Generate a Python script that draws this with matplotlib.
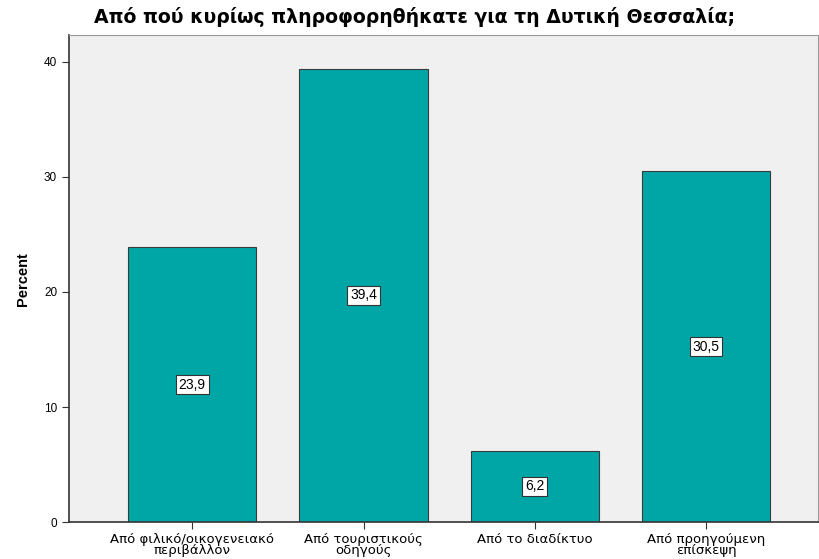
import matplotlib
matplotlib.use('Agg')
import matplotlib.pyplot as plt

plt.rcParams['font.family'] = ['Liberation Sans', 'DejaVu Sans']

title = 'Από πού κυρίως πληροφορηθήκατε για τη Δυτική Θεσσαλία;'
categories = ['Από φιλικό/οικογενειακό\nπεριβάλλον', 'Από τουριστικούς\nοδηγούς',
              'Από το διαδίκτυο', 'Από προηγούμενη\nεπίσκεψη']
percent = [23.9, 39.4, 6.2, 30.5]
labels = ['23,9', '39,4', '6,2', '30,5']

fig = plt.figure(figsize=(8.2, 5.59), dpi=100)
ax = fig.add_axes([0.084, 0.066, 0.913, 0.871])
ax.set_facecolor('#F0F0F0')

x = range(len(categories))
ax.bar(x, percent, width=0.75, color='#00A6A6', edgecolor='#3a3a3a', linewidth=0.8, zorder=2)

for xi, v, lab in zip(x, percent, labels):
    ax.text(xi, v / 2, lab, ha='center', va='center', fontsize=10, zorder=3,
            bbox=dict(boxstyle='square,pad=0.2', fc='white', ec='#333333', lw=0.8))

ax.set_xlim(-0.72, 3.65)
ax.set_ylim(0, 42.3)
ax.set_yticks([0, 10, 20, 30, 40])
ax.set_xticks(list(x))
ax.set_xticklabels(categories, fontsize=9.5, linespacing=0.8, family='DejaVu Sans')
ax.tick_params(axis='y', labelsize=8.5, length=5, color='#333333')
ax.tick_params(axis='x', length=5, color='#333333', pad=3)
ax.set_ylabel('Percent', fontsize=10.5, fontweight='bold', labelpad=10)

for side in ['left', 'bottom']:
    ax.spines[side].set_color('#333333')
    ax.spines[side].set_linewidth(1.2)
for side in ['top', 'right']:
    ax.spines[side].set_color('#999999')
    ax.spines[side].set_linewidth(0.8)

fig.text(415 / 820, 1 - 17 / 559, title, ha='center', va='center',
         fontsize=13.6, fontweight='bold', family='DejaVu Sans')

fig.savefig('out.png', dpi=100)
